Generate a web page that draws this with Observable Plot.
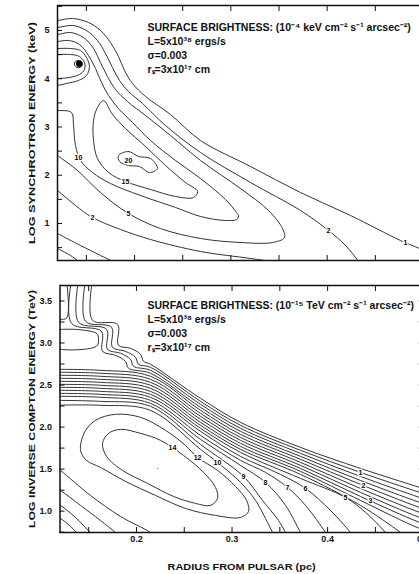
<!DOCTYPE html>
<html>
<head>
<meta charset="utf-8">
<script src="https://cdn.jsdelivr.net/npm/d3@7"></script>
<script src="https://cdn.jsdelivr.net/npm/@observablehq/plot@0.6"></script>
<style>
html,body{margin:0;padding:0;background:#fff;overflow:hidden;}
#wrap{position:relative;width:419px;height:574px;overflow:hidden;background:#fff;}
#top,#bot{position:absolute;left:0;width:440px;}
#top{top:0;}
#bot{top:280px;}
svg text{-webkit-font-smoothing:antialiased;}
</style>
</head>
<body>
<div id="wrap"><div id="top"></div><div id="bot"></div></div>
<script>
// ---------- shared axis data ----------
const xDomain = [0.12, 0.5];
const xTicks = [0.15, 0.2, 0.25, 0.3, 0.35, 0.4, 0.45, 0.5];
const xTickLabels = [0.2, 0.3, 0.4, 0.5];

// ---------- top panel: synchrotron ----------
const synYDomain = [0.233, 5.518];
const synYTicks = [0.5, 1, 1.5, 2, 2.5, 3, 3.5, 4, 4.5, 5, 5.5];
const synYLabels = [1, 2, 3, 4, 5];
const synNote = "SURFACE BRIGHTNESS: (10⁻⁴ keV cm⁻² s⁻¹ arcsec⁻²)\nL=5x10³⁸ ergs/s\nσ=0.003\nrₛ=3x10¹⁷ cm";

const synA = [[0.113,5.207],[0.12,5.207],[0.1356,5.249],[0.1522,5.166],[0.1646,5.0],[0.175,4.751],[0.1833,4.461],[0.1896,4.171],[0.1979,3.902],[0.2114,3.632],[0.2373,3.259],[0.2685,2.72],[0.3204,2.181],[0.3723,1.642],[0.4242,1.166],[0.4761,0.648],[0.4959,0.482],[0.5177,0.295]];
const synB = [[0.113,5.062],[0.12,5.062],[0.136,5.104],[0.150,5.0],[0.1615,4.793],[0.1698,4.523],[0.1771,4.233],[0.1844,3.964],[0.1937,3.736],[0.2083,3.487],[0.2321,3.031],[0.2685,2.471],[0.3204,1.85],[0.3723,1.269],[0.4014,0.855],[0.419,0.544],[0.4325,0.212],[0.4367,0.067]];
const synL4 = [[0.113,4.917],[0.12,4.917],[0.1335,4.958],[0.147,4.855],[0.1574,4.627],[0.1646,4.337],[0.1719,4.047],[0.1802,3.777],[0.1927,3.528],[0.2114,3.238],[0.2373,2.824],[0.2685,2.306],[0.31,1.725],[0.3391,1.269],[0.3536,0.896],[0.3557,0.71],[0.3432,0.606],[0.31,0.606],[0.2685,0.689],[0.2269,0.896],[0.1937,1.207],[0.1646,1.642],[0.1408,2.098],[0.12,2.409],[0.113,2.513]];
const synL3 = [[0.113,4.772],[0.12,4.772],[0.1314,4.793],[0.1428,4.71],[0.1522,4.482],[0.1595,4.212],[0.1657,3.922],[0.173,3.653],[0.1833,3.383],[0.1979,3.093],[0.2166,2.72],[0.2425,2.306],[0.2685,1.933],[0.2944,1.497],[0.3059,1.228],[0.308,1.155],[0.3059,1.083],[0.2944,1.062],[0.2685,1.145],[0.2425,1.332],[0.2062,1.58],[0.175,1.829],[0.1563,2.057],[0.1439,2.306],[0.1387,2.617],[0.1366,3.031],[0.1345,3.30],[0.12,3.342],[0.113,3.342]];
const synR3 = [[0.113,4.627],[0.12,4.627],[0.1335,4.627],[0.1439,4.585],[0.1501,4.44],[0.1532,4.254],[0.1501,4.067],[0.1418,3.964],[0.1293,3.902],[0.12,3.86],[0.113,3.86]];
const synR2 = [[0.113,4.503],[0.12,4.503],[0.1335,4.503],[0.1428,4.461],[0.148,4.337],[0.148,4.192],[0.1428,4.088],[0.1325,4.026],[0.12,4.005],[0.113,4.005]];
const synD1 = [[0.113,1.788],[0.12,1.684],[0.1387,1.373],[0.1563,1.124],[0.1854,0.876],[0.2166,0.668],[0.2685,0.42],[0.3204,0.275],[0.345,0.2],[0.36,0.12]];
const synD2 = [[0.113,0.876],[0.12,0.793],[0.1439,0.544],[0.1646,0.337],[0.1771,0.212],[0.1833,0.109]];
const synD3 = [[0.113,0.565],[0.12,0.482],[0.1335,0.337],[0.1418,0.212],[0.146,0.109]];
// closed loops
const synL2 = [[0.1678,3.549],[0.1771,3.259],[0.1906,2.969],[0.2114,2.596],[0.2321,2.202],[0.2529,1.85],[0.2654,1.663],[0.2612,1.539],[0.2425,1.56],[0.2166,1.705],[0.1906,1.87],[0.173,2.057],[0.1615,2.347],[0.1574,2.72],[0.1574,3.135],[0.1615,3.404]];
const synL1 = [[0.1833,2.409],[0.1937,2.492],[0.2041,2.389],[0.2166,2.347],[0.2238,2.14],[0.2155,2.057],[0.2051,2.181],[0.1937,2.202],[0.1844,2.285]];
const synR1 = [[0.1387,4.362],[0.1418,4.378],[0.1452,4.35],[0.146,4.285],[0.1435,4.235],[0.1400,4.235],[0.1376,4.285]];
const synPeak = [[0.1425,4.31]];
const synLabels = [[0.1937,2.30,"20"],[0.1418,2.368,"10"],[0.1906,1.87,"15"],[0.1937,1.207,"5"],[0.1563,1.124,"2"],[0.4014,0.855,"2"],[0.4813,0.606,"1"]];

// ---------- bottom panel: inverse Compton ----------
const icYDomain = [0.746, 3.684];
const icYTicks = [0.75, 1, 1.25, 1.5, 1.75, 2, 2.25, 2.5, 2.75, 3, 3.25, 3.5];
const icYLabels = [1, 1.5, 2, 2.5, 3, 3.5];
const icNote = "SURFACE BRIGHTNESS: (10⁻¹⁵ TeV cm⁻² s⁻¹ arcsec⁻²)\nL=5x10³⁸ ergs/s\nσ=0.003\nrₛ=3x10¹⁷ cm";

const icS1 = [[0.154,3.746],[0.154,3.270],[0.1802,3.222],[0.1812,2.973],[0.1938,2.937],[0.2042,2.866],[0.2074,2.782],[0.2147,2.747],[0.267,2.342],[0.3089,2.056],[0.3717,1.758],[0.4344,1.508],[0.4962,1.282],[0.5182,1.199]];
const icS2 = [[0.1467,3.746],[0.1467,3.258],[0.1739,3.187],[0.1749,2.949],[0.1885,2.901],[0.199,2.830],[0.2021,2.747],[0.2147,2.711],[0.267,2.306],[0.3089,2.021],[0.3717,1.723],[0.4344,1.461],[0.4962,1.223],[0.5182,1.139]];
const icS3 = [[0.1394,3.746],[0.1394,3.246],[0.1687,3.163],[0.1697,2.925],[0.1833,2.878],[0.1938,2.806],[0.1969,2.723],[0.2147,2.675],[0.267,2.271],[0.3089,1.985],[0.3717,1.687],[0.4344,1.413],[0.4962,1.163],[0.5182,1.080]];
const icS4 = [[0.132,3.746],[0.132,3.234],[0.1634,3.139],[0.1645,2.901],[0.1781,2.854],[0.1885,2.782],[0.1917,2.699],[0.2147,2.640],[0.267,2.235],[0.3089,1.949],[0.3717,1.651],[0.4344,1.365],[0.4962,1.104],[0.5182,1.020]];
const icC1 = [[0.1268,3.746],[0.1268,3.294],[0.1153,3.294]];
const icE14 = [[0.1101,2.687],[0.1624,2.675],[0.2147,2.604],[0.267,2.199],[0.3089,1.913],[0.3717,1.616],[0.4344,1.318],[0.4962,1.044],[0.5182,0.961]];
const icE13 = [[0.1101,2.652],[0.1624,2.640],[0.2147,2.568],[0.267,2.163],[0.3089,1.877],[0.3717,1.580],[0.4344,1.270],[0.4962,0.985],[0.5182,0.901]];
const icE12 = [[0.1101,2.616],[0.1624,2.604],[0.2147,2.532],[0.267,2.128],[0.3089,1.842],[0.3717,1.544],[0.4344,1.223],[0.4962,0.925],[0.5182,0.842]];
const icE11 = [[0.1101,2.580],[0.1624,2.568],[0.2147,2.497],[0.267,2.092],[0.3089,1.806],[0.3717,1.508],[0.4344,1.175],[0.4962,0.866],[0.5182,0.782]];
const icE10 = [[0.1101,2.544],[0.1624,2.532],[0.2147,2.461],[0.267,2.056],[0.3089,1.770],[0.3717,1.473],[0.4344,1.127],[0.4962,0.794],[0.5182,0.711]];
const icE9 = [[0.1101,2.508],[0.1624,2.497],[0.2147,2.425],[0.267,2.021],[0.3089,1.735],[0.3717,1.437],[0.4344,1.068],[0.4763,0.746],[0.4868,0.651]];
const icE8 = [[0.1101,2.473],[0.1624,2.461],[0.2147,2.389],[0.267,1.985],[0.3089,1.699],[0.3717,1.389],[0.4187,1.163],[0.4397,0.985],[0.4606,0.746],[0.4679,0.651]];
const icE7 = [[0.1101,2.437],[0.1624,2.425],[0.2147,2.354],[0.267,1.949],[0.3089,1.651],[0.3507,1.437],[0.3769,1.270],[0.403,1.008],[0.424,0.746],[0.4303,0.651]];
const icE6 = [[0.1101,2.401],[0.1624,2.389],[0.2147,2.318],[0.267,1.901],[0.3089,1.604],[0.335,1.461],[0.3581,1.282],[0.3769,1.068],[0.3978,0.746],[0.403,0.651]];
const icE5 = [[0.1101,2.366],[0.1624,2.354],[0.2147,2.282],[0.267,1.854],[0.3089,1.544],[0.335,1.342],[0.356,1.068],[0.3717,0.746],[0.3769,0.651]];
const icE4 = [[0.1101,2.318],[0.1624,2.306],[0.2147,2.247],[0.267,1.794],[0.312,1.413],[0.3319,1.127],[0.3486,0.889],[0.356,0.746],[0.3612,0.651]];
const icE3 = [[0.1101,2.259],[0.1624,2.259],[0.2147,2.199],[0.267,1.735],[0.2848,1.580],[0.3089,1.342],[0.3246,1.127],[0.335,0.913],[0.3424,0.746],[0.3466,0.651]];
const icLL3 = [[0.1101,1.580],[0.1205,1.485],[0.1519,1.187],[0.1833,0.937],[0.2147,0.746],[0.2252,0.651]];
const icLL4 = [[0.1101,1.318],[0.1205,1.246],[0.1415,1.068],[0.1624,0.889],[0.1781,0.746],[0.1885,0.651]];
const icLL5 = [[0.1101,1.127],[0.1205,1.068],[0.1362,0.925],[0.1519,0.746],[0.1624,0.651]];
const icLL6 = [[0.1101,0.961],[0.1205,0.913],[0.131,0.818],[0.1373,0.746],[0.1435,0.651]];
// closed loops
const icBox = [[0.1101,3.127],[0.1582,3.116],[0.1603,3.044],[0.1582,2.961],[0.1101,2.961]];
const icE2 = [[0.1415,1.723],[0.1456,1.937],[0.1571,2.080],[0.1781,2.152],[0.2042,2.116],[0.2304,1.961],[0.2513,1.782],[0.2639,1.639],[0.2848,1.485],[0.3036,1.294],[0.3152,1.127],[0.3173,0.996],[0.3089,0.925],[0.2827,0.949],[0.2513,1.032],[0.2199,1.187],[0.1885,1.354],[0.1624,1.520],[0.1477,1.604]];
const icE1 = [[0.1645,1.806],[0.1708,1.925],[0.1833,1.973],[0.2042,1.925],[0.2252,1.842],[0.2492,1.663],[0.2702,1.461],[0.2827,1.282],[0.2848,1.151],[0.2775,1.068],[0.2618,1.092],[0.2388,1.175],[0.2116,1.330],[0.1854,1.485],[0.1687,1.651]];
const icCenter = [[0.222,1.508]];
const icLabels = [[0.2377,1.758,"14"],[0.2639,1.639,"12"],[0.2848,1.580,"10"],[0.312,1.413,"9"],[0.335,1.342,"8"],[0.3581,1.282,"7"],[0.3769,1.270,"6"],[0.4187,1.163,"5"],[0.4344,1.461,"1"],[0.4376,1.306,"2"],[0.4449,1.127,"3"]];

// ---------- helpers ----------
const rows = (groups) => groups.flatMap(([id, pts]) => pts.map(([x, y]) => ({id, x, y})));
const lineStyle = {x: "x", y: "y", z: "id", stroke: "#333", strokeWidth: 1, clip: true};
const baseStyle = {fontFamily: "'Liberation Sans', Arial, sans-serif", fontSize: "9px", fontWeight: "bold", color: "#111", background: "white", maxWidth: "none", overflow: "visible"};

function panel({el, height, marginLeft, marginRight, marginBottom, yDomain, yTicks, yLabels, yFormat, yTitle, note, noteDx, noteDy, open, closed, dots, dotR, dotFill, labels, xLabels}) {
  const marks = [
    Plot.line(rows(open), {...lineStyle, curve: "catmull-rom"}),
    Plot.line(rows(closed), {...lineStyle, curve: "catmull-rom-closed"}),
    Plot.dot(dots, {x: d => d[0], y: d => d[1], r: dotR, fill: dotFill, stroke: "none"}),
    Plot.text(labels, {x: d => d[0], y: d => d[1], text: d => d[2], fontSize: 7, fontWeight: "bold", fill: "black", stroke: "white", strokeWidth: 2.4, paintOrder: "stroke"}),
    Plot.text([note], {text: d => d, frameAnchor: "top-left", textAnchor: "start", lineAnchor: "top", dx: noteDx, dy: noteDy, fontSize: 10.5, lineHeight: 1.333, fill: "#111"}),
    Plot.axisX({anchor: "bottom", ticks: xTicks, tickSize: 5, dy: -5, tickFormat: () => "", label: null}),
    Plot.axisX({anchor: "top", ticks: xTicks, tickSize: 5, dy: 5, tickFormat: () => "", label: null}),
    Plot.axisY({anchor: "left", ticks: yTicks, tickSize: 5, dx: 5, tickFormat: () => "", label: null}),
    Plot.axisY({anchor: "right", ticks: yTicks, tickSize: 5, dx: -5, tickFormat: () => "", label: null}),
    Plot.axisY({anchor: "left", ticks: yLabels, tickSize: 0, tickPadding: 8, tickFormat: yFormat, label: yTitle, labelAnchor: "center", labelOffset: marginLeft - 28, labelArrow: "none"}),
    Plot.frame({stroke: "#111", strokeWidth: 1.5})
  ];
  if (xLabels) {
    marks.push(Plot.axisX({anchor: "bottom", ticks: xLabels, tickSize: 0, tickPadding: 3, tickFormat: d3.format(".1f"), label: "RADIUS FROM PULSAR (pc)", labelAnchor: "center", labelOffset: 37, labelArrow: "none"}));
  }
  const chart = Plot.plot({
    width: 440, height, marginTop: 5, marginBottom, marginLeft, marginRight,
    x: {domain: xDomain}, y: {domain: yDomain},
    style: baseStyle,
    marks
  });
  document.getElementById(el).appendChild(chart);
  return chart;
}

const topChart = panel({
  el: "top", height: 280, marginLeft: 57, marginRight: 17, marginBottom: 20,
  yDomain: synYDomain, yTicks: synYTicks, yLabels: synYLabels, yFormat: d3.format("d"),
  yTitle: "LOG SYNCHROTRON ENERGY (keV)", note: synNote, noteDx: 90, noteDy: 16,
  open: [["A", synA], ["B", synB], ["L4", synL4], ["L3", synL3], ["R3", synR3], ["R2", synR2], ["D1", synD1], ["D2", synD2], ["D3", synD3]],
  closed: [["L2", synL2], ["L1", synL1], ["R1", synR1]],
  dots: synPeak, dotR: 3.2, dotFill: "#000", labels: synLabels, xLabels: false
});

const botChart = panel({
  el: "bot", height: 294, marginLeft: 59.5, marginRight: 17.3, marginBottom: 42,
  yDomain: icYDomain, yTicks: icYTicks, yLabels: icYLabels, yFormat: d3.format(".1f"),
  yTitle: "LOG INVERSE COMPTON ENERGY (TeV)", note: icNote, noteDx: 87.5, noteDy: 14,
  open: [["S1", icS1], ["S2", icS2], ["S3", icS3], ["S4", icS4], ["C1", icC1], ["E14", icE14], ["E13", icE13], ["E12", icE12], ["E11", icE11], ["E10", icE10], ["E9", icE9], ["E8", icE8], ["E7", icE7], ["E6", icE6], ["E5", icE5], ["E4", icE4], ["E3", icE3], ["LL3", icLL3], ["LL4", icLL4], ["LL5", icLL5], ["LL6", icLL6]],
  closed: [["box", icBox], ["E2", icE2], ["E1", icE1]],
  dots: icCenter, dotR: 0.8, dotFill: "#999", labels: icLabels, xLabels: xTickLabels
});

// stretch axis titles to the reference's wide lettering
function stretch(svg, aria, len) {
  svg.querySelectorAll(`g[aria-label="${aria}"] text`).forEach(t => {
    t.setAttribute("textLength", len);
    t.setAttribute("lengthAdjust", "spacingAndGlyphs");
  });
}
stretch(topChart, "y-axis label", 222);
stretch(botChart, "y-axis label", 238);
stretch(botChart, "x-axis label", 148);
</script>
</body>
</html>
